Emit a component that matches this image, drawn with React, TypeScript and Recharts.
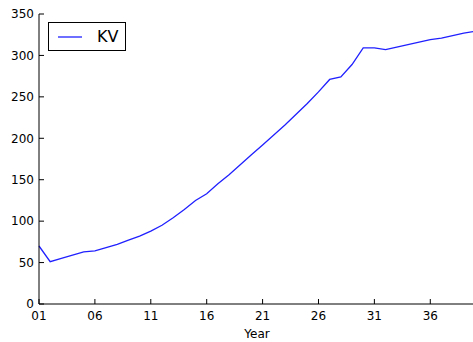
import React from 'react';
import { LineChart, Line, XAxis, YAxis, Legend } from 'recharts';

const years: number[] = [1,2,3,4,5,6,7,8,9,10,11,12,13,14,15,16,17,18,19,20,21,22,23,24,25,26,27,28,29,30,31,32,33,34,35,36,37,38,39,40];
const kv: number[] = [70,51,55,59,63,64,68,72,77,82,88,95,104,114,125,133,145,156,168,180,192,204,216,229,242,256,271,274,289,309,309,307,310,313,316,319,321,324,327,329];
const xTicks: number[] = [1,6,11,16,21,26,31,36];
const yTicks: number[] = [0,50,100,150,200,250,300,350];
const seriesName = 'KV';

const data = years.map((y, i) => ({ year: y, kv: kv[i] }));
const fmt = (v: number) => (v < 10 ? '0' + v : String(v));
const FONT = '"DejaVu Sans", sans-serif';
const LINE_COLOR = '#2020ff';

const BottomTick = (p: any) => (
  <g>
    <line x1={p.x} x2={p.x} y1={p.y} y2={p.y - 5} stroke="#000" strokeWidth={1} />
    <text x={p.x} y={p.y + 7} dy="0.71em" textAnchor="middle" fontSize={12} fontFamily={FONT} fill="#000">{fmt(p.payload.value)}</text>
  </g>
);
const TopTick = (p: any) => (
  <line x1={p.x} x2={p.x} y1={p.y} y2={p.y + 5} stroke="#000" strokeWidth={1} />
);
const LeftTick = (p: any) => (
  <g>
    <line x1={p.x} x2={p.x + 5} y1={p.y} y2={p.y} stroke="#000" strokeWidth={1} />
    <text x={p.x - 5} y={p.y} dy="0.36em" textAnchor="end" fontSize={12} fontFamily={FONT} fill="#000">{p.payload.value}</text>
  </g>
);
const RightTick = (p: any) => (
  <line x1={p.x - 5} x2={p.x} y1={p.y} y2={p.y} stroke="#000" strokeWidth={1} />
);

const LegendBox = () => (
  <div style={{ width: 78, height: 29, border: '1px solid #000', boxSizing: 'border-box', background: '#fff', position: 'relative', fontFamily: FONT }}>
    <svg width={30} height={4} style={{ position: 'absolute', left: 9, top: 12 }}>
      <line x1={0} x2={24} y1={2} y2={2} stroke={LINE_COLOR} strokeWidth={1.3} />
    </svg>
    <span style={{ position: 'absolute', left: 48, top: 4, fontSize: 16, lineHeight: '19px', color: '#000' }}>{seriesName}</span>
  </div>
);

export default function App() {
  return (
    <div style={{ position: 'absolute', left: 0, top: 0, width: 473, height: 342, overflow: 'hidden', background: '#fff' }}>
      <LineChart width={476} height={342} data={data} margin={{ top: 14, right: 1, bottom: 0, left: 0 }}>
        <XAxis dataKey="year" type="number" domain={[1, 40]} ticks={xTicks} interval={0} tickSize={0} tickMargin={0}
          tickLine={false} axisLine={{ stroke: '#000', strokeWidth: 1 }} height={38} tick={<BottomTick />}
          label={{ value: 'Year', position: 'insideBottom', offset: 4, fontSize: 12, fontFamily: FONT, fill: '#000' }} />
        <XAxis xAxisId="top" orientation="top" dataKey="year" type="number" domain={[1, 40]} ticks={xTicks} interval={0}
          tickSize={0} tickMargin={0} tickLine={false} axisLine={{ stroke: '#000', strokeWidth: 1 }} height={0} tick={<TopTick />} />
        <YAxis type="number" domain={[0, 350]} ticks={yTicks} interval={0} width={39} tickSize={0} tickMargin={0}
          tickLine={false} axisLine={{ stroke: '#000', strokeWidth: 1 }} tick={<LeftTick />} />
        <YAxis yAxisId="right" orientation="right" type="number" domain={[0, 350]} ticks={yTicks} interval={0} width={0}
          tickSize={0} tickMargin={0} tickLine={false} axisLine={{ stroke: '#000', strokeWidth: 1 }} tick={<RightTick />} />
        <Legend layout="horizontal" verticalAlign="middle" align="center" content={<LegendBox />}
          wrapperStyle={{ position: 'absolute', left: 48, top: 22, width: 78, height: 29 }} />
        <Line dataKey="kv" name={seriesName} stroke={LINE_COLOR} strokeWidth={1.3} dot={false} activeDot={false} isAnimationActive={false} />
        <Line xAxisId="top" yAxisId="right" dataKey="kv" stroke="none" dot={false} activeDot={false} legendType="none" isAnimationActive={false} />
      </LineChart>
    </div>
  );
}
